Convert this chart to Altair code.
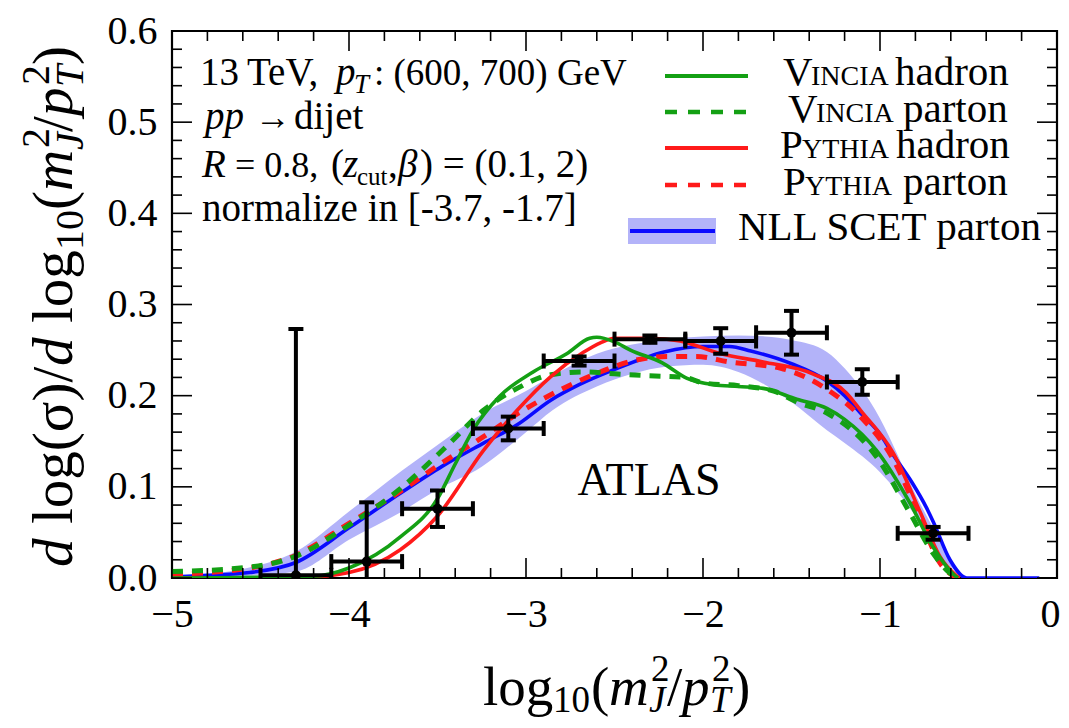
import altair as alt
import pandas as pd

FONT = "Liberation Serif"
W, H = 885, 547          # plot area
X0, Y0 = 172, 31         # page pixel of plot origin

# ---------------- data ----------------
atlas_x = [-4.3, -3.9, -3.5, -3.1, -2.7, -2.3, -1.9, -1.5, -1.1, -0.7]
atlas_y = [0.003, 0.018, 0.076, 0.164, 0.238, 0.262, 0.260, 0.269, 0.215, 0.049]
atlas_err = [0.270, 0.065, 0.020, 0.013, 0.005, 0.004, 0.014, 0.024, 0.014, 0.007]
atlas_halfbin = 0.2

band_x = [-5.0, -4.6, -4.3, -4.0, -3.7, -3.5, -3.25, -3.0, -2.85, -2.6, -2.4, -2.2, -2.0,
          -1.8, -1.65, -1.5, -1.3, -1.2, -1.0, -0.9, -0.8, -0.7, -0.6, -0.5, -0.1]
band_hi = [0.002, 0.010, 0.029, 0.073, 0.118, 0.146, 0.180, 0.205, 0.222, 0.246, 0.256, 0.262, 0.265,
           0.266, 0.265, 0.261, 0.248, 0.230, 0.175, 0.135, 0.092, 0.055, 0.020, 0.0, 0.0]
band_lo = [0.0, 0.002, 0.007, 0.042, 0.073, 0.097, 0.122, 0.160, 0.184, 0.210, 0.224, 0.232, 0.234,
           0.226, 0.212, 0.193, 0.162, 0.148, 0.116, 0.094, 0.068, 0.034, 0.012, 0.0, 0.0]

nll_x = [-5.0, -4.8, -4.56, -4.3, -4.0, -3.71, -3.47, -3.24, -3.05, -2.86, -2.7, -2.51, -2.22, -2.0,
         -1.85, -1.73, -1.5, -1.3, -1.2, -1.11, -1.0, -0.925, -0.82, -0.74, -0.70, -0.605, -0.51, -0.1]
nll_y = [0.001, 0.003, 0.006, 0.017, 0.055, 0.093, 0.123, 0.148, 0.168, 0.195, 0.212, 0.228, 0.248, 0.254,
         0.254, 0.249, 0.235, 0.216, 0.200, 0.181, 0.158, 0.135, 0.105, 0.078, 0.062, 0.020, 0.0, 0.0]

py_had_x = [-5.0, -4.3, -4.0, -3.71, -3.5, -3.24, -3.05, -2.86, -2.68, -2.58, -2.5, -2.3, -2.13, -1.9,
            -1.66, -1.38, -1.19, -1.11, -0.925, -0.77, -0.66, -0.57, -0.55]
py_had_y = [0.0, 0.0, 0.006, 0.031, 0.068, 0.140, 0.184, 0.221, 0.247, 0.258, 0.263, 0.263, 0.260, 0.246,
            0.237, 0.224, 0.203, 0.184, 0.137, 0.071, 0.023, 0.003, 0.0]

py_par_x = [-5.0, -4.56, -4.3, -4.0, -3.71, -3.47, -3.24, -3.05, -2.86, -2.58, -2.4, -2.2, -2.04, -1.85,
            -1.56, -1.3, -1.11, -0.925, -0.77, -0.66, -0.59, -0.56]
py_par_y = [0.004, 0.011, 0.025, 0.060, 0.095, 0.127, 0.155, 0.180, 0.201, 0.226, 0.238, 0.243, 0.243, 0.237,
            0.230, 0.207, 0.177, 0.130, 0.064, 0.016, 0.003, 0.0]

vi_had_x = [-5.0, -4.2, -4.0, -3.71, -3.5, -3.4, -3.3, -3.15, -2.96, -2.77, -2.64, -2.6, -2.5, -2.41,
            -2.23, -2.09, -1.94, -1.8, -1.66, -1.47, -1.3, -1.2, -1.02, -0.83, -0.70, -0.59, -0.56]
vi_had_y = [0.0, 0.002, 0.011, 0.045, 0.087, 0.125, 0.162, 0.199, 0.226, 0.246, 0.263, 0.264, 0.259, 0.250,
            0.236, 0.219, 0.212, 0.210, 0.208, 0.196, 0.186, 0.174, 0.140, 0.082, 0.034, 0.005, 0.0]

vi_par_x = [-5.0, -4.56, -4.3, -4.0, -3.71, -3.5, -3.43, -3.24, -3.05, -2.86, -2.68, -2.5, -2.32, -2.1,
            -2.0, -1.8, -1.6, -1.47, -1.3, -1.02, -0.83, -0.70, -0.62, -0.57]
vi_par_y = [0.007, 0.012, 0.024, 0.058, 0.098, 0.135, 0.148, 0.184, 0.208, 0.223, 0.226, 0.224, 0.222, 0.220,
            0.214, 0.211, 0.205, 0.193, 0.181, 0.133, 0.071, 0.027, 0.008, 0.0]

x_major = [-5, -4, -3, -2, -1, 0]
x_minor = [-4.8, -4.6, -4.4, -4.2, -3.8, -3.6, -3.4, -3.2, -2.8, -2.6, -2.4, -2.2,
           -1.8, -1.6, -1.4, -1.2, -0.8, -0.6, -0.4, -0.2]
y_major = [0.0, 0.1, 0.2, 0.3, 0.4, 0.5, 0.6]
y_minor = [0.02, 0.04, 0.06, 0.08, 0.12, 0.14, 0.16, 0.18, 0.22, 0.24, 0.26, 0.28,
           0.32, 0.34, 0.36, 0.38, 0.42, 0.44, 0.46, 0.48, 0.52, 0.54, 0.56, 0.58]

GREEN = "#14a014"
RED = "#ff1a1a"
BLUE = "#0a0aff"
BAND = "#b3b3f9"

# ---------------- scales / axes ----------------
xs = alt.Scale(domain=[-5, 0], nice=False, zero=False)
ys = alt.Scale(domain=[0, 0.6], nice=False, zero=False)
xaxis = alt.Axis(values=x_major, format="d", ticks=False, tickSize=0, domain=False, grid=False,
                 labelFont=FONT, labelFontSize=40, labelPadding=16, labelColor="black",
                 labelOffset={"condition": {"test": "datum.value === 0", "value": -7}, "value": 0},
                 labelFlush=False, labelOverlap=False, labelBound=False, title=None)
yaxis = alt.Axis(values=y_major, format=".1f", ticks=False, tickSize=0, domain=False, grid=False,
                 labelFont=FONT, labelFontSize=40, labelPadding=15, labelColor="black",
                 labelFlush=False, labelOverlap=False, labelBound=False, title=None)


def X(f):
    return alt.X(f, type="quantitative", scale=xs, axis=xaxis)


def Y(f):
    return alt.Y(f, type="quantitative", scale=ys, axis=yaxis)


def curve(xv, yv, color, dashed=False):
    df = pd.DataFrame({"x": xv, "y": yv})
    kw = dict(color=color, strokeWidth=5 if dashed else 3.6, clip=True, interpolate="monotone")
    if dashed:
        kw["strokeDash"] = [11, 9]
    return alt.Chart(df).mark_line(**kw).encode(x=X("x"), y=Y("y"))


band = alt.Chart(pd.DataFrame({"x": band_x, "hi": band_hi, "lo": band_lo})).mark_area(
    color=BAND, opacity=1, clip=True, interpolate="monotone"
).encode(x=X("x"), y=Y("hi"), y2="lo")

atlas_df = pd.DataFrame({"x": atlas_x, "y": atlas_y, "e": atlas_err})
atlas_df["xl"] = atlas_df["x"] - atlas_halfbin
atlas_df["xh"] = atlas_df["x"] + atlas_halfbin
atlas_df["yl"] = atlas_df["y"] - atlas_df["e"]
atlas_df["yh"] = atlas_df["y"] + atlas_df["e"]

base_a = alt.Chart(atlas_df)
EB = dict(color="black", opacity=1, clip=True)
hbar = base_a.mark_rule(strokeWidth=4, **EB).encode(x=X("xl"), x2="xh", y=Y("y"))
vbar = base_a.mark_rule(strokeWidth=4, **EB).encode(x=X("x"), y=Y("yl"), y2="yh")
cap_l = base_a.mark_tick(orient="vertical", size=15, thickness=4, **EB).encode(x=X("xl"), y=Y("y"))
cap_r = base_a.mark_tick(orient="vertical", size=15, thickness=4, **EB).encode(x=X("xh"), y=Y("y"))
cap_t = base_a.mark_tick(orient="horizontal", size=15, thickness=4, **EB).encode(x=X("x"), y=Y("yh"))
cap_b = base_a.mark_tick(orient="horizontal", size=15, thickness=4, **EB).encode(x=X("x"), y=Y("yl"))
pts = base_a.mark_circle(size=100, **EB).encode(x=X("x"), y=Y("y"))


def xticks(vals, length, top):
    df = pd.DataFrame({"v": vals})
    y1 = 0 if top else H
    y2 = length if top else H - length
    return alt.Chart(df).mark_rule(color="black", strokeWidth=1.6).encode(
        x=X("v"), y=alt.value(y1), y2=alt.value(y2))


def yticks(vals, length, right):
    df = pd.DataFrame({"v": vals})
    x1 = W if right else 0
    x2 = W - length if right else length
    return alt.Chart(df).mark_rule(color="black", strokeWidth=1.6).encode(
        y=Y("v"), x=alt.value(x1), x2=alt.value(x2))


ticks = [
    xticks(x_major, 20, False), xticks(x_minor, 10, False),
    xticks(x_major, 20, True), xticks(x_minor, 10, True),
    yticks(y_major, 20, False), yticks(y_minor, 10, False),
    yticks(y_major, 20, True), yticks(y_minor, 10, True),
]


def T(s, px, py, size=39, italic=False, align="left", angle=0):
    kw = dict(text=s, font=FONT, fontSize=size, align=align, baseline="alphabetic", color="black")
    if italic:
        kw["fontStyle"] = "italic"
    if angle:
        kw["angle"] = angle
    return alt.Chart(pd.DataFrame({"k": [0]})).mark_text(**kw).encode(
        x=alt.value(px - X0), y=alt.value(py - Y0))


YB, YSUP, YSUB = 72, 49, 83   # baselines (x) of rotated y title
XB = 705                      # baseline of x title
texts = [
    # annotation block
    T("13", 200, 85), T("TeV,", 247, 85), T("p", 336, 85, italic=True),
    T("T", 354, 93, size=27, italic=True),
    T(": (600, 700) GeV", 374, 85, size=37),
    T("pp", 205, 129, italic=True), T("\u2192", 255, 129, size=36), T("dijet", 294, 129),
    T("R", 202, 177, italic=True), T("= 0.8,", 235, 177, size=36), T("(", 331, 177),
    T("z", 343, 177, italic=True), T("cut", 357, 185, size=25), T(",", 388, 177),
    T("\u03b2", 398, 177, italic=True), T(") = (0.1, 2)", 420, 177),
    T("normalize in [-3.7, -1.7]", 202, 221),
    T("ATLAS", 649, 495, size=46, align="center"),
    # legend labels
    T("V", 783, 85, size=41), T("INCIA", 811, 85, size=28), T("hadron", 895, 85, size=41),
    T("V", 788, 122, size=41), T("INCIA", 816, 122, size=28), T("parton", 903, 122, size=41),
    T("P", 780, 158, size=41), T("YTHIA", 802, 158, size=28), T("hadron", 896, 158, size=41),
    T("P", 783, 195, size=41), T("YTHIA", 805, 195, size=28), T("parton", 903, 195, size=41),
    T("NLL SCET parton", 738, 240, size=41),
    # x title
    T("log", 483, XB, size=55), T("10", 553, XB + 7, size=37), T("(", 591, XB, size=55),
    T("m", 609, XB, size=55, italic=True), T("2", 651, XB - 24, size=37),
    T("J", 649, XB + 7, size=37, italic=True),
    T("/", 667, XB, size=55), T("p", 682, XB, size=55, italic=True), T("2", 712, XB - 24, size=37),
    T("T", 710, XB + 7, size=37, italic=True), T(")", 732, XB, size=55),
    # y title (rotated)
    T("d", YB, 567, size=57, italic=True, angle=270),
    T("log(\u03c3)/", YB, 524, size=57, angle=270),
    T("d", YB, 366, size=57, italic=True, angle=270),
    T("log", YB, 323, size=57, angle=270),
    T("10", YSUB, 250, size=40, angle=270),
    T("(", YB, 210, size=57, angle=270),
    T("m", YB, 191, size=57, italic=True, angle=270),
    T("2", YSUP, 148, size=40, angle=270),
    T("J", YSUB, 150, size=40, italic=True, angle=270),
    T("/", YB, 132, size=57, angle=270),
    T("p", YB, 116, size=57, italic=True, angle=270),
    T("2", YSUP, 85, size=40, angle=270),
    T("T", YSUB, 87, size=40, italic=True, angle=270),
    T(")", YB, 65, size=57, angle=270),
]


def legline(color, px1, px2, py, dashed=False):
    kw = dict(color=color, strokeWidth=4.5 if dashed else 3.8)
    if dashed:
        kw["strokeDash"] = [12, 11]
    return alt.Chart(pd.DataFrame({"k": [0]})).mark_rule(**kw).encode(
        x=alt.value(px1 - X0), x2=alt.value(px2 - X0), y=alt.value(py - Y0))


legend = [
    legline(GREEN, 665, 748, 76),
    legline(GREEN, 665, 748, 112, dashed=True),
    legline(RED, 665, 748, 148),
    legline(RED, 665, 748, 185, dashed=True),
    alt.Chart(pd.DataFrame({"k": [0]})).mark_rect(color=BAND, opacity=1).encode(
        x=alt.value(628 - X0), x2=alt.value(716 - X0), y=alt.value(218 - Y0), y2=alt.value(244 - Y0)),
    legline(BLUE, 630, 715, 231),
]

layers = [band,
          curve(nll_x, nll_y, BLUE),
          curve(py_par_x, py_par_y, RED, dashed=True),
          curve(vi_par_x, vi_par_y, GREEN, dashed=True),
          curve(py_had_x, py_had_y, RED),
          curve(vi_had_x, vi_had_y, GREEN),
          hbar, vbar, cap_l, cap_r, cap_t, cap_b, pts] + ticks + legend + texts

chart = alt.layer(*layers).properties(
    width=W, height=H,
    autosize=alt.AutoSizeParams(type="none"),
    padding={"left": X0 - 8, "top": Y0 - 8, "right": 4, "bottom": 142},
    background="white",
).configure_view(stroke="black", strokeWidth=2.2)

chart.save("out.html", embed_options={"renderer": "svg", "actions": False})
